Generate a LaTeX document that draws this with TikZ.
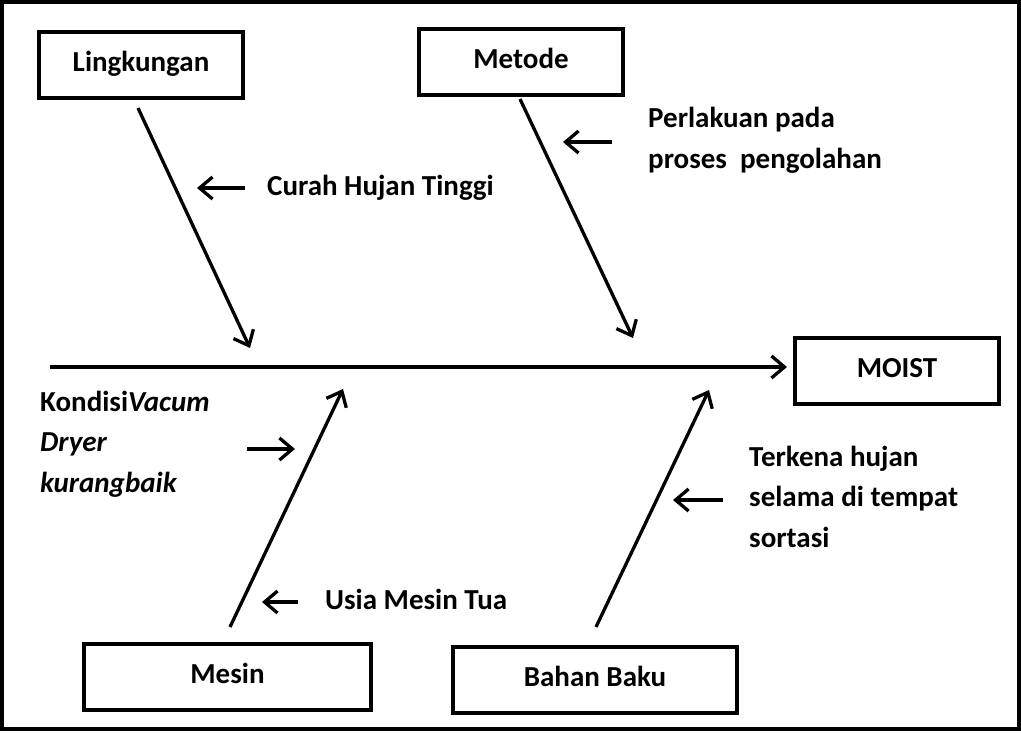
\documentclass[tikz,border=0pt]{standalone}
\usepackage{fontspec}
\setmainfont{Carlito}
\usetikzlibrary{arrows.meta}
\begin{document}
\begin{tikzpicture}[x=1pt,y=-1pt,
  font=\fontsize{29}{40.5}\selectfont\bfseries,
  box/.style={draw,line width=4pt,inner sep=0pt,minimum height=66pt,text height=19pt,text depth=6pt},
  lbl/.style={anchor=base west,inner sep=0pt,align=left},
  arr/.style={line width=3.3pt,-{Straight Barb[length=13pt,width=22pt,line width=3.3pt]}}]
\useasboundingbox (0,0) rectangle (1021,732);
\draw[line width=4pt] (2,2) rectangle (1019,729);
% boxes
\node[box,minimum width=204pt] (ling) at (141,65) {Lingkungan};
\node[box,minimum width=204pt] (met) at (521,62) {Metode};
\node[box,minimum width=204pt] (moist) at (897,371) {MOIST};
\node[box,minimum width=287pt] (mes) at (227.5,677) {Mesin};
\node[box,minimum width=284pt] (bb) at (595,680) {Bahan Baku};
% fishbone coordinates
\coordinate (ls) at (138,108); \coordinate (lt) at (250,348);
\coordinate (ms) at (520,99);  \coordinate (mt) at (633,338);
\coordinate (ss) at (50,367);  \coordinate (st) at (787,367);
\coordinate (es) at (230,627); \coordinate (et) at (343,389);
\coordinate (bs) at (596,627); \coordinate (bt) at (709,390);
\draw[arr] (ls) -- (lt);
\draw[arr] (ms) -- (mt);
\draw[arr] (ss) -- (st);
\draw[arr] (es) -- (et);
\draw[arr] (bs) -- (bt);
% labels (base = baseline of last line)
\node[lbl] (curah) at (267,195) {Curah Hujan Tinggi};
\node[lbl] (perl) at (648,168) {Perlakuan pada\\proses\ \ pengolahan};
\node[lbl] (kond) at (40,492) {Kondisi\textit{Vacum}\\\textit{Dryer}\\\textit{kurangbaik}};
\node[lbl] (usia) at (325,609) {Usia Mesin Tua};
\node[lbl] (terk) at (749,547) {Terkena hujan\\selama di tempat\\sortasi};
% small arrows
\coordinate (c1) at (245,188); \coordinate (c2) at (197,188);
\coordinate (p1) at (612,142); \coordinate (p2) at (563,142);
\coordinate (k1) at (247,449); \coordinate (k2) at (295,449);
\coordinate (u1) at (298,602); \coordinate (u2) at (262,602);
\coordinate (t1) at (723,500); \coordinate (t2) at (673,500);
\draw[arr] (c1) -- (c2);
\draw[arr] (p1) -- (p2);
\draw[arr] (k1) -- (k2);
\draw[arr] (u1) -- (u2);
\draw[arr] (t1) -- (t2);
\end{tikzpicture}
\end{document}
